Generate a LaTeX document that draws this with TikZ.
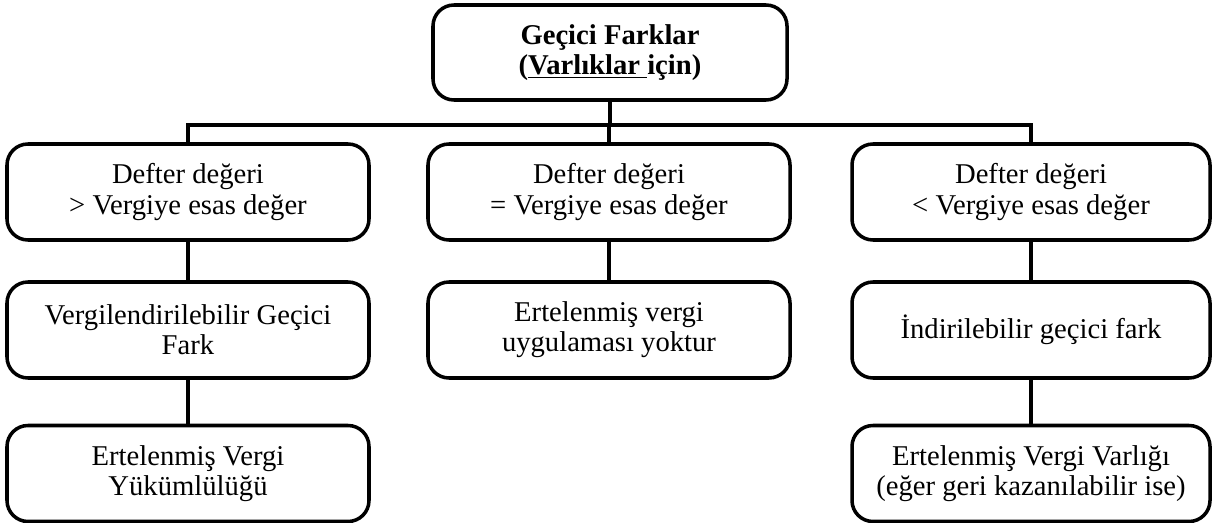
\documentclass[tikz,border=0pt]{standalone}
\usepackage{fontspec}
\setmainfont{Liberation Serif}
\usepackage{tikz}

\tikzset{
    farkbox/.style={draw, line width=2pt, rounded corners=0.42cm, align=center,
        minimum width=7.24cm, minimum height=1.92cm, inner sep=0pt,
        font=\fontsize{16.3}{17.2}\selectfont},
    bag/.style={line width=2pt}
}

\begin{document}
\begin{tikzpicture}
    \useasboundingbox (0,0) rectangle (24.28,-10.46);

    % Top Box
    \node[farkbox, minimum width=7.08cm, minimum height=1.9cm,
          font=\fontsize{16.3}{17.2}\selectfont\bfseries] (top) at (12.2,-1.05)
        {Geçici Farklar\\(\underline{Varlıklar }için)};

    % First Row
    \node[farkbox] (l1) at (3.76,-3.84) {Defter değeri\\> Vergiye esas değer};
    \node[farkbox] (m1) at (12.18,-3.84) {Defter değeri\\= Vergiye esas değer};
    \node[farkbox, minimum width=7.16cm] (r1) at (20.62,-3.84) {Defter değeri\\< Vergiye esas değer};

    % Second Row
    \node[farkbox] (l2) at (3.76,-6.6) {Vergilendirilebilir Geçici\\Fark};
    \node[farkbox] (m2) at (12.18,-6.6) {Ertelenmiş vergi\\uygulaması yoktur};
    \node[farkbox, minimum width=7.16cm] (r2) at (20.62,-6.6) {İndirilebilir geçici fark};

    % Third Row
    \node[farkbox] (l3) at (3.76,-9.47) {Ertelenmiş Vergi\\Yükümlülüğü};
    \node[farkbox, minimum width=7.16cm] (r3) at (20.62,-9.47) {Ertelenmiş Vergi Varlığı\\(eğer geri kazanılabilir ise)};

    % Connectors
    \coordinate (bus) at (0,-2.5);
    \draw[bag] (top.south) -- (top.south |- bus);
    \draw[bag] (l1.north) |- (r1.north |- bus) -- (r1.north);
    \draw[bag] (m1.north) -- (m1.north |- bus);

    % -- columns
    \draw[bag] (l1.south) -- (l2.north);
    \draw[bag] (l2.south) -- (l3.north);
    \draw[bag] (m1.south) -- (m2.north);
    \draw[bag] (r1.south) -- (r2.north);
    \draw[bag] (r2.south) -- (r3.north);
\end{tikzpicture}
\end{document}
